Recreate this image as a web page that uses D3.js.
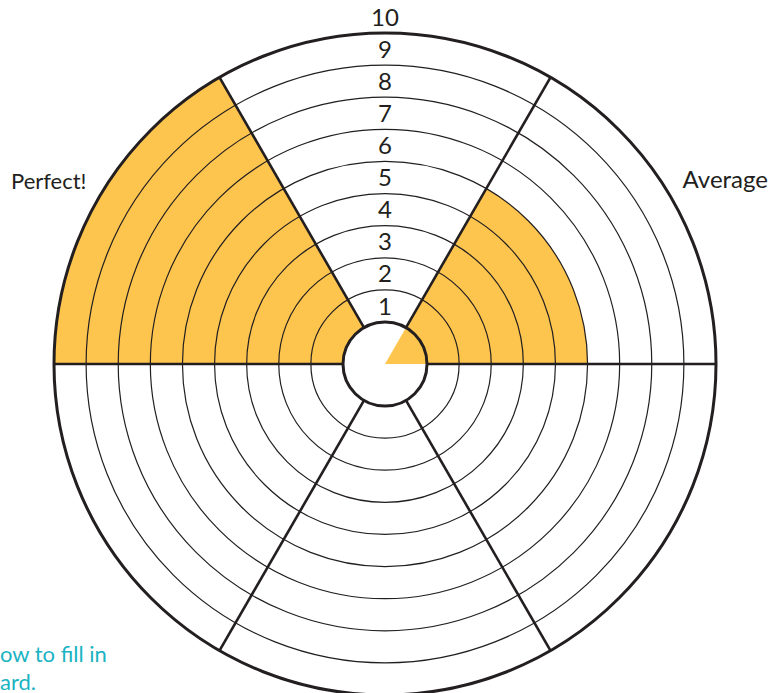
<!DOCTYPE html>
<html>
<head>
<meta charset="utf-8">
<script src="https://cdn.jsdelivr.net/npm/d3@7"></script>
<style>
  body { margin: 0; background: #fff; }
  svg { display: block; }
</style>
</head>
<body>
<div id="wheel"></div>
<script>
// 1: DATA
const ringLabels = [1, 2, 3, 4, 5, 6, 7, 8, 9, 10];
const ringCount = 9;                       // bands inside the outer circle
const spokeAngles = [0, 60, 120, 180, 240, 300];   // degrees, counter-clockwise from east
const sectorStarts = [0, 60, 120, 180, 240, 300];
const sectorScores = [5, 0, 9, 0, 0, 0];
const sectorFromCentre = [true, false, false, false, false, false];
const sideLabels = ["Perfect!", "Average"];
const noteLines = ["ow to fill in", "ard."];

// 2: SETUP
const W = 772, H = 693;
const cx = 385, cy = 364;
const innerR = 42, outerR = 331;
const ink = "#231f20";
const yellow = "#fec54e";
const font = "Lato, 'DejaVu Sans', sans-serif";

const svg = d3.select("#wheel")
  .append("svg")
    .attr("width", W)
    .attr("height", H);

const g = svg.append("g")
  .attr("transform", `translate(${cx},${cy})`);

// radial scale: score -> radius
const rScale = d3.scaleLinear()
  .domain([0, ringCount])
  .range([innerR, outerR]);

// math angle (deg, ccw from east) -> d3 arc angle (rad, cw from north)
const toArc = a => (90 - a) * Math.PI / 180;

// 3: FILLED SECTORS
const arc = d3.arc();
const sectors = sectorStarts.map((s, i) => ({
  start: s, score: sectorScores[i], fromCentre: sectorFromCentre[i]
})).filter(d => d.score > 0);

g.selectAll(".sector")
  .data(sectors)
  .enter()
  .append("path")
    .attr("class", "sector")
    .attr("fill", yellow)
    .attr("d", d => arc({
      innerRadius: d.fromCentre ? 0 : innerR,
      outerRadius: rScale(d.score),
      startAngle: toArc(d.start + 60),
      endAngle: toArc(d.start)
    }));

// 4: RINGS
g.selectAll(".ring")
  .data(d3.range(1, ringCount))
  .enter()
  .append("circle")
    .attr("class", "ring")
    .attr("r", d => rScale(d))
    .attr("fill", "none")
    .attr("stroke", ink)
    .attr("stroke-width", 1.2);

// spokes
g.selectAll(".spoke")
  .data(spokeAngles)
  .enter()
  .append("line")
    .attr("class", "spoke")
    .attr("x1", a => innerR * Math.cos(a * Math.PI / 180))
    .attr("y1", a => -innerR * Math.sin(a * Math.PI / 180))
    .attr("x2", a => outerR * Math.cos(a * Math.PI / 180))
    .attr("y2", a => -outerR * Math.sin(a * Math.PI / 180))
    .attr("stroke", ink)
    .attr("stroke-width", 2.6);

// outer and inner circles
g.append("circle")
  .attr("r", outerR)
  .attr("fill", "none")
  .attr("stroke", ink)
  .attr("stroke-width", 3);

g.append("circle")
  .attr("r", innerR)
  .attr("fill", "none")
  .attr("stroke", ink)
  .attr("stroke-width", 3);

// 5: LABELS
g.selectAll(".ring-label")
  .data(ringLabels)
  .enter()
  .append("text")
    .attr("class", "ring-label")
    .attr("x", 0)
    .attr("y", d => -rScale(d - 0.5))
    .attr("dy", "0.36em")
    .attr("text-anchor", "middle")
    .style("font-family", font)
    .style("font-size", "24px")
    .style("fill", ink)
    .text(d => d);

svg.append("text")
  .attr("x", 11)
  .attr("y", 189)
  .style("font-family", font)
  .style("font-size", "22px")
  .style("fill", ink)
  .text(sideLabels[0]);

svg.append("text")
  .attr("x", 768)
  .attr("y", 188)
  .attr("text-anchor", "end")
  .style("font-family", font)
  .style("font-size", "24px")
  .style("fill", ink)
  .text(sideLabels[1]);

svg.selectAll(".note")
  .data(noteLines)
  .enter()
  .append("text")
    .attr("class", "note")
    .attr("x", 0)
    .attr("y", (d, i) => 662 + i * 28)
    .style("font-family", font)
    .style("font-size", "22px")
    .style("fill", "#1ab3c3")
    .text(d => d);
</script>
</body>
</html>
